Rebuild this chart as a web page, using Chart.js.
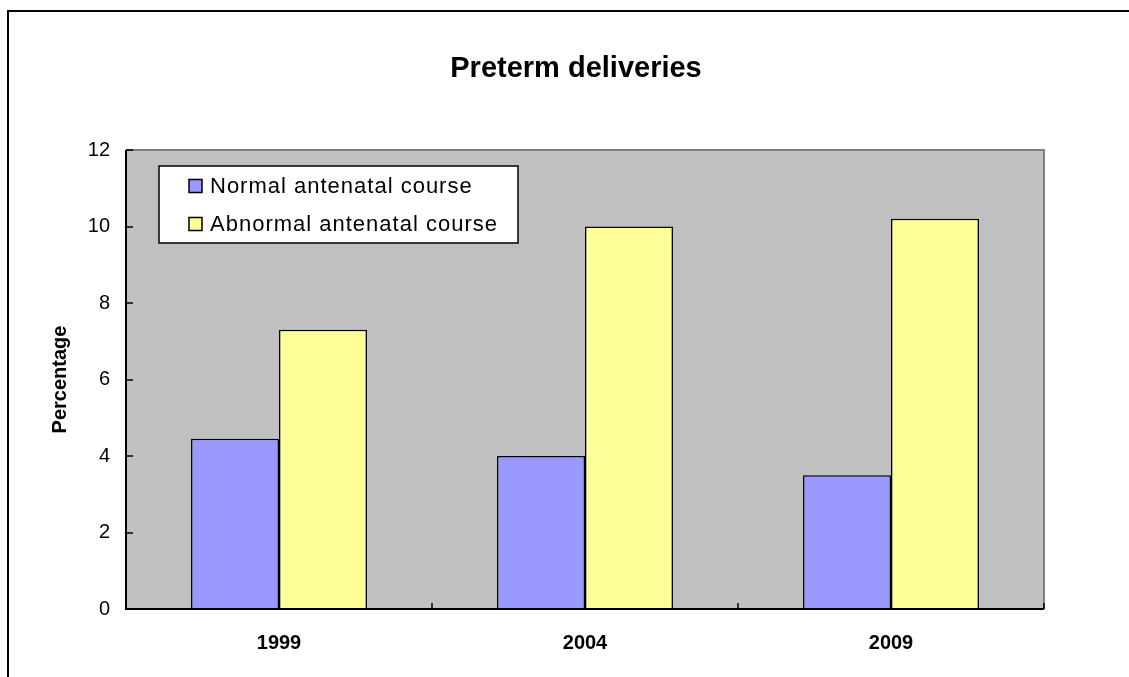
<!DOCTYPE html>
<html>
<head>
<meta charset="utf-8">
<script src="https://cdn.jsdelivr.net/npm/chart.js@4/dist/chart.umd.min.js"></script>
<style>
html,body{margin:0;padding:0;background:#fff;}
#wrap{width:1129px;height:677px;position:relative;}
</style>
</head>
<body>
<div id="wrap"><canvas id="c" width="1129" height="677"></canvas></div>
<script>
const titleText = 'Preterm deliveries';
const yAxisTitle = 'Percentage';
const categories = ['1999', '2004', '2009'];
const seriesNames = ['Normal antenatal course', 'Abnormal antenatal course'];
const normalValues = [4.45, 4.0, 3.5];
const abnormalValues = [7.3, 10.0, 10.2];
const yMin = 0, yMax = 12, yStep = 2;

const FONT = '"Liberation Sans", Arial, sans-serif';

const framePlugin = {
  id: 'frame',
  beforeDraw(chart) {
    const {ctx, chartArea: a} = chart;
    ctx.save();
    ctx.fillStyle = '#fff';
    ctx.fillRect(0, 0, chart.width, chart.height);
    ctx.strokeStyle = '#000';
    ctx.lineWidth = 2;
    ctx.strokeRect(8, 11, chart.width + 20, chart.height + 20);
    ctx.fillStyle = '#C0C0C0';
    ctx.fillRect(a.left, a.top, a.right - a.left, a.bottom - a.top);
    ctx.strokeStyle = '#808080';
    ctx.lineWidth = 2;
    ctx.beginPath();
    ctx.moveTo(a.left, a.top);
    ctx.lineTo(a.right, a.top);
    ctx.lineTo(a.right, a.bottom);
    ctx.stroke();
    // chart title, centred over the plot area
    ctx.fillStyle = '#000';
    ctx.font = 'bold 29px ' + FONT;
    ctx.textAlign = 'center';
    ctx.textBaseline = 'alphabetic';
    ctx.fillText(titleText, 576, 77);
    ctx.restore();
  },
  afterDatasetsDraw(chart) {
    const {ctx, chartArea: a, scales} = chart;
    ctx.save();
    ctx.strokeStyle = '#000';
    ctx.lineWidth = 2;
    ctx.beginPath();
    ctx.moveTo(a.left, a.top);
    ctx.lineTo(a.left, a.bottom);
    ctx.lineTo(a.right, a.bottom);
    ctx.stroke();
    ctx.lineWidth = 1.5;
    scales.y.ticks.forEach(t => {
      const y = Math.round(scales.y.getPixelForValue(t.value));
      ctx.beginPath();
      ctx.moveTo(a.left, y);
      ctx.lineTo(a.left + 7, y);
      ctx.stroke();
    });
    const xs = scales.x;
    const n = categories.length;
    for (let i = 0; i <= n; i++) {
      const x = Math.round(i < n ? xs.getPixelForValue(i) - xs.width / n / 2 : xs.getPixelForValue(n - 1) + xs.width / n / 2);
      ctx.beginPath();
      ctx.moveTo(x, a.bottom);
      ctx.lineTo(x, a.bottom - 6);
      ctx.stroke();
    }
    ctx.restore();
  },
  afterDraw(chart) {
    const {ctx} = chart;
    ctx.save();
    const bx = 159, by = 166, bw = 359, bh = 77;
    ctx.fillStyle = '#fff';
    ctx.fillRect(bx, by, bw, bh);
    ctx.strokeStyle = '#000';
    ctx.lineWidth = 1.5;
    ctx.strokeRect(bx, by, bw, bh);
    const rows = [186, 224];
    chart.data.datasets.forEach((ds, i) => {
      const cy = rows[i];
      ctx.fillStyle = ds.backgroundColor;
      ctx.fillRect(189, cy - 6.5, 13, 13);
      ctx.lineWidth = 1.5;
      ctx.strokeStyle = '#000';
      ctx.strokeRect(189, cy - 6.5, 13, 13);
      ctx.fillStyle = '#000';
      ctx.font = '22px ' + FONT;
      ctx.textBaseline = 'middle';
      ctx.textAlign = 'left';
      try { ctx.letterSpacing = '1px'; } catch (e) {}
      ctx.fillText(ds.label, 210, cy + 1);
    });
    ctx.restore();
  }
};

new Chart(document.getElementById('c'), {
  type: 'bar',
  data: {
    labels: categories,
    datasets: [
      { label: seriesNames[0], data: normalValues, backgroundColor: '#9999FF', borderColor: '#000', borderWidth: 1.5 },
      { label: seriesNames[1], data: abnormalValues, backgroundColor: '#FFFF99', borderColor: '#000', borderWidth: 1.5 }
    ]
  },
  options: {
    responsive: false,
    animation: false,
    layout: { padding: { top: 150, right: 85, bottom: 0, left: 0 } },
    datasets: { bar: { categoryPercentage: 0.575, barPercentage: 1.0 } },
    plugins: {
      legend: { display: false },
      tooltip: { enabled: false },
      title: { display: false }
    },
    scales: {
      x: {
        grid: { display: false, drawTicks: false },
        border: { display: false },
        ticks: { color: '#000', font: { family: FONT, size: 20, weight: 'bold' }, padding: 22 },
        afterFit(s) { s.height = 68; }
      },
      y: {
        min: yMin, max: yMax,
        grid: { display: false, drawTicks: false },
        border: { display: false },
        ticks: { stepSize: yStep, color: '#000', font: { family: FONT, size: 20 }, padding: 16 },
        title: {
          display: true, text: yAxisTitle, color: '#000',
          font: { family: FONT, size: 20, weight: 'bold', lineHeight: 1.2 },
          padding: { top: 48, bottom: 0 }
        },
        afterFit(s) { s.width = 126; }
      }
    }
  },
  plugins: [framePlugin]
});
</script>
</body>
</html>
